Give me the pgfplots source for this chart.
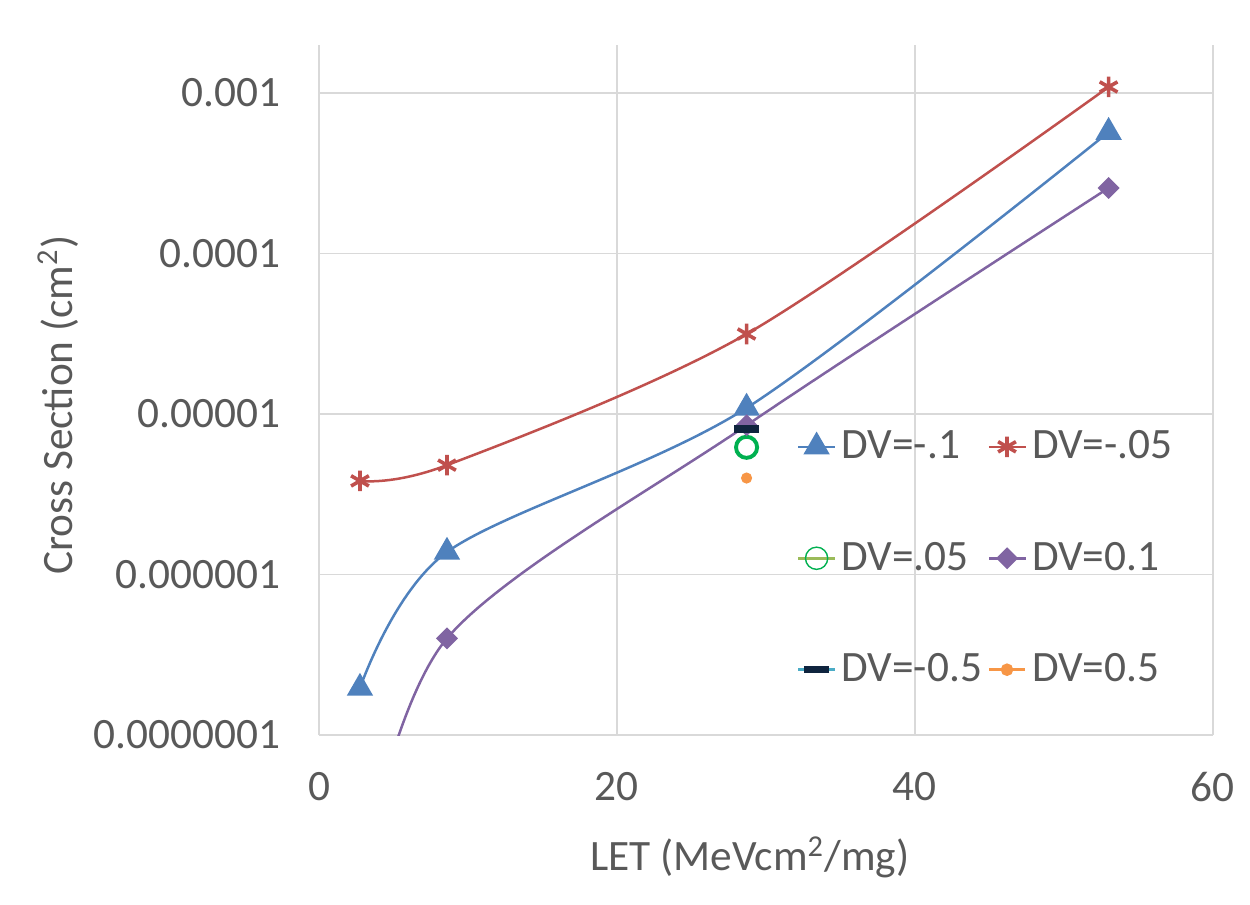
\documentclass[border=0pt]{standalone}
\usepackage{fontspec}
\setmainfont{Carlito}
\usepackage{pgfplots}
\pgfplotsset{compat=1.18}

\definecolor{txtgray}{HTML}{595959}
\definecolor{gridgray}{HTML}{D9D9D9}
\definecolor{cblue}{HTML}{4F81BD}
\definecolor{cred}{HTML}{C0504D}
\definecolor{cpurple}{HTML}{8064A2}
\definecolor{cgreen}{HTML}{00B050}
\definecolor{cgreenline}{HTML}{9BBB59}
\definecolor{cnavy}{HTML}{0F243E}
\definecolor{ccyan}{HTML}{4BACC6}
\definecolor{corange}{HTML}{F79646}

\begin{document}
\begin{tikzpicture}
% page size = 1250 x 905 px at 0.36pt/px
\path[use as bounding box] (-114.84pt,-61.2pt) rectangle (335.16pt,264.6pt);
\begin{axis}[
    scale only axis,
    width=321.8pt, height=248.4pt,
    at={(0,0)}, anchor=south west,
    xmin=0, xmax=60,
    ymode=log,
    ymin=1e-7, ymax=1.99e-3,
    xtick={0,20,40,60},
    ytick={1e-7,1e-6,1e-5,1e-4,1e-3},
    yticklabels={0.0000001,0.000001,0.00001,0.0001,0.001},
    minor ytick={},
    major tick length=0pt,
    minor tick length=0pt,
    grid=major,
    grid style={gridgray, line width=0.5pt},
    axis line style={draw=none},
    font=\fontsize{15.6}{18}\selectfont,
    tick label style={txtgray},
    /pgf/number format/assume math mode=true,
    yticklabel style={anchor=east, xshift=-10.5pt},
    xticklabel style={anchor=north, yshift=-10pt},
    xlabel={LET (MeVcm\textsuperscript{2}/mg)},
    ylabel={Cross Section (cm\textsuperscript{2})},
    every axis x label/.style={at={(axis description cs:0.482,0)}, anchor=center, yshift=-44pt, txtgray},
    every axis y label/.style={at={(axis description cs:-0.292,0.478)}, anchor=center, rotate=90, txtgray},
    clip marker paths=true,
    legend columns=2,
    legend style={draw=none, fill=none, at={(axis description cs:0.525,0.458)}, anchor=north west,
        font=\fontsize{15.6}{18}\selectfont, text=txtgray, row sep=24.5pt,
        /tikz/every even column/.append style={column sep=0pt}},
    legend cell align=left,
    legend image code/.code={\draw[mark repeat=2,mark phase=2] plot coordinates {(0cm,0cm) (0.23cm,0cm) (0.46cm,0cm)};},
]
% DV=-.1
\addplot[cblue, line width=0.9pt, smooth, mark=triangle*, mark size=4.6pt, mark options={solid, fill=cblue, draw=cblue}] coordinates {
    (2.75,1.96e-7) (8.59,1.38e-6) (28.7,1.09e-5) (53.0,5.7e-4)
};
\addlegendentry{DV=-.1}
% DV=-.05
\addplot[cred, line width=0.9pt, smooth, mark=asterisk, mark size=3.7pt, mark options={solid, line width=1.3pt}] coordinates {
    (2.75,3.83e-6) (8.59,4.8e-6) (28.7,3.15e-5) (53.0,1.09e-3)
};
\addlegendentry{DV=-.05}
% DV=.05
\addplot[forget plot, only marks, mark=o, mark size=3.8pt, mark options={draw=cgreen, line width=1.4pt}] coordinates {
    (28.7,6.2e-6)
};
\addlegendimage{cgreenline, line width=0.9pt, mark=o, mark size=4pt, mark options={draw=cgreen, line width=0.5pt}}
\addlegendentry{DV=.05}
% DV=0.1
\addplot[cpurple, line width=0.9pt, smooth, mark=square*, mark size=2.35pt, mark options={solid, rotate=45, fill=cpurple}] coordinates {
    (2.75,1.2e-8) (8.59,4.0e-7) (28.7,8.5e-6) (53.0,2.56e-4)
};
\addlegendentry{DV=0.1}
% DV=-0.5
\addplot[forget plot, only marks, mark=-, mark size=4.5pt, mark options={draw=cnavy, line width=2.6pt}] coordinates {
    (28.7,8.05e-6)
};
\addlegendimage{ccyan, line width=0.9pt, mark=-, mark size=4.5pt, mark options={draw=cnavy, line width=2.6pt}}
\addlegendentry{DV=-0.5}
% DV=0.5
\addplot[forget plot, only marks, mark=*, mark size=1.8pt, mark options={draw=corange, fill=corange}] coordinates {
    (28.7,3.99e-6)
};
\addlegendimage{corange, line width=0.9pt, mark=*, mark size=1.8pt, mark options={draw=corange, fill=corange}}
\addlegendentry{DV=0.5}
\end{axis}
\end{tikzpicture}
\end{document}
